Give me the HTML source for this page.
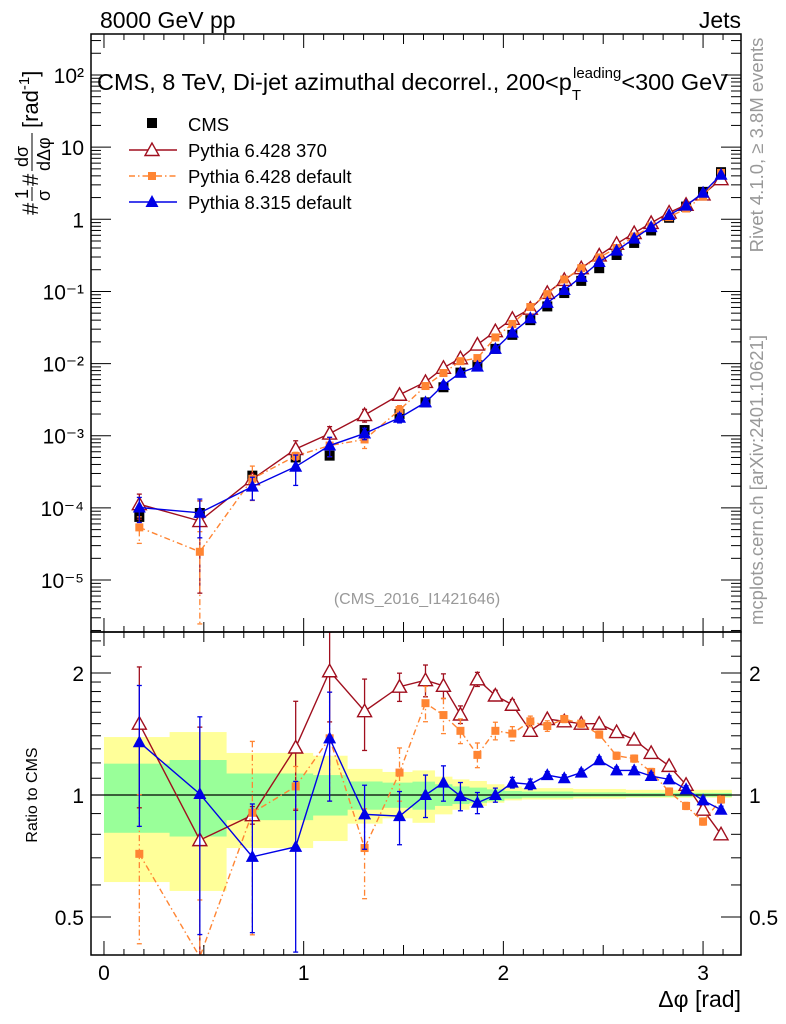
<!DOCTYPE html>
<html><head><meta charset="utf-8"><style>
html,body{margin:0;padding:0;background:#fff;width:786px;height:1024px;overflow:hidden;}
svg{display:block;font-family:"Liberation Sans",sans-serif;}
</style></head><body>
<svg id="c" width="786" height="1024" xmlns="http://www.w3.org/2000/svg"></svg>
<script>
const xs=[0.177,0.48,0.743,0.96,1.13,1.305,1.48,1.61,1.70,1.785,1.87,1.96,2.045,2.135,2.22,2.305,2.39,2.48,2.567,2.655,2.74,2.83,2.915,3.0,3.09];
const cmsVals=[7.5e-5,8.5e-5,2.8e-4,5e-4,5.3e-4,1.2e-3,2.0e-3,2.9e-3,4.7e-3,7.5e-3,9.5e-3,0.016,0.025,0.04,0.062,0.095,0.14,0.21,0.32,0.47,0.7,1.05,1.5,2.4,4.5];
const ratioP370=[1.50,0.774,0.892,1.31,2.02,1.61,1.85,1.92,1.86,1.58,1.93,1.76,1.67,1.44,1.54,1.52,1.50,1.50,1.43,1.37,1.27,1.18,1.06,0.92,0.80];
const ratioP6=[0.716,0.29,0.904,1.05,1.38,0.74,1.136,1.685,1.575,1.44,1.256,1.44,1.418,1.52,1.48,1.54,1.50,1.41,1.25,1.23,1.14,1.02,0.94,0.86,0.975];
const ratioP8=[1.35,1.006,0.704,0.745,1.38,0.896,0.887,1.0,1.073,0.994,0.957,1.0,1.073,1.063,1.12,1.10,1.136,1.218,1.15,1.15,1.114,1.093,1.033,0.97,0.92];
const errP370=[0.38,0.9,0.05,0.3,0.25,0.2,0.08,0.09,0.07,0.05,0.04,0.03,0.03,0.02,0.02,0.02,0.02,0.02,0.02,0.02,0.02,0.02,0.02,0.02,0.02];
const errP6=[0.4,0.9,0.5,0.12,0.3,0.25,0.15,0.1,0.1,0.07,0.07,0.05,0.04,0.03,0.03,0.02,0.02,0.02,0.02,0.02,0.02,0.02,0.02,0.02,0.02];
const errP8=[0.38,0.55,0.35,0.45,0.3,0.18,0.15,0.12,0.1,0.08,0.06,0.04,0.03,0.03,0.02,0.02,0.02,0.02,0.02,0.02,0.02,0.02,0.02,0.02,0.02];
const bandTotUp=[1.39,1.43,1.27,1.27,1.25,1.16,1.14,1.15,1.11,1.093,1.083,1.063,1.05,1.04,1.04,1.04,1.035,1.035,1.035,1.03,1.03,1.03,1.03,1.03,1.03];
const bandTotLo=[0.61,0.58,0.74,0.74,0.77,0.85,0.876,0.854,0.896,0.92,0.94,0.957,0.97,0.975,0.975,0.975,0.98,0.98,0.98,0.985,0.985,0.985,0.985,0.985,0.985];
const bandStatUp=[1.195,1.22,1.13,1.13,1.12,1.08,1.073,1.079,1.063,1.05,1.043,1.033,1.023,1.02,1.02,1.02,1.015,1.015,1.015,1.012,1.012,1.012,1.012,1.012,1.012];
const bandStatLo=[0.807,0.79,0.867,0.867,0.89,0.92,0.93,0.92,0.94,0.95,0.957,0.966,0.98,0.985,0.985,0.985,0.99,0.99,0.99,0.99,0.99,0.99,0.99,0.99,0.99];
const xTicks=[0,1,2,3];
const yTicksTop=[["10\u00B2",2],["10",1],["1",0],["10\u207B\u00B9",-1],["10\u207B\u00B2",-2],["10\u207B\u00B3",-3],["10\u207B\u2074",-4],["10\u207B\u2075",-5]];
const rTicks=[["2",2],["1",1],["0.5",0.5]];

const NS="http://www.w3.org/2000/svg";
const svg=document.getElementById('c');
const L=91,R=741,T1=34,B1=632,T2=632,B2=955;
const XMIN=-0.065,XMAX=3.19;
const LMAX=2.568,LMIN=-5.72;
const RMAX=1.336,RMIN=-1.311;
const clamp=(y,a,b)=>Math.max(a-2,Math.min(b+2,y));
const X=v=>L+(v-XMIN)/(XMAX-XMIN)*(R-L);
const Y1raw=v=>T1+(LMAX-Math.log10(v))/(LMAX-LMIN)*(B1-T1);
const Y2raw=v=>T2+(RMAX-Math.log2(v))/(RMAX-RMIN)*(B2-T2);
const Y1=v=>clamp(Y1raw(v),T1,B1);
const Y2=v=>clamp(Y2raw(v),T2,B2);
function el(t,a,p){const e=document.createElementNS(NS,t);for(const k in a)e.setAttribute(k,a[k]);(p||svg).appendChild(e);return e;}
function txt(s,a,p){const e=el('text',a,p);e.textContent=s;return e;}
const cl1=el('clipPath',{id:'c1'});el('rect',{x:L,y:T1,width:R-L,height:B1-T1},cl1);
const cl2=el('clipPath',{id:'c2'});el('rect',{x:L,y:T2,width:R-L,height:B2-T2},cl2);
const g1=el('g',{'clip-path':'url(#c1)'});
const g2=el('g',{'clip-path':'url(#c2)'});

const edges=[0];for(let i=0;i<xs.length-1;i++)edges.push((xs[i]+xs[i+1])/2);edges.push(3.1416);
for(let i=0;i<xs.length;i++){
 const r=el('rect',{x:X(edges[i]),y:Y2(bandTotUp[i]),width:X(edges[i+1])-X(edges[i])+0.5,height:Y2(bandTotLo[i])-Y2(bandTotUp[i]),fill:'#ffff99'},g2);
 
}
for(let i=0;i<xs.length;i++){
 const r=el('rect',{x:X(edges[i]),y:Y2(bandStatUp[i]),width:X(edges[i+1])-X(edges[i])+0.5,height:Y2(bandStatLo[i])-Y2(bandStatUp[i]),fill:'#99ff99'},g2);
 
}
el('line',{x1:L,x2:R,y1:Y2(1),y2:Y2(1),stroke:'#000','stroke-width':1.3},g2);

function marker(p,type,color,x,y){
 if(type==='sq'){return el('rect',{x:x-5,y:y-5,width:10,height:10,fill:color},p);}
 if(type==='osq'){return el('rect',{x:x-4,y:y-4,width:8,height:8,fill:color},p);}
 if(type==='tri'){return el('polygon',{points:`${x},${y-7} ${x-6.5},${y+5} ${x+6.5},${y+5}`,fill:color},p);}
 if(type==='otri'){return el('polygon',{points:`${x},${y-7} ${x-7},${y+5.5} ${x+7},${y+5.5}`,fill:'#fff',stroke:color,'stroke-width':1.4},p);}
}
const series=[
 {name:'pythia-6428-370',r:ratioP370,e:errP370,c:'#a00f1e',m:'otri',d:''},
 {name:'pythia-6428-default',r:ratioP6,e:errP6,c:'#ff8533',m:'osq',d:'6,3,1.5,3'},
 {name:'pythia-8315-default',r:ratioP8,e:errP8,c:'#0000e6',m:'tri',d:''}
];
for(let i=0;i<xs.length;i++){
 const m=marker(g1,'sq','#000',X(xs[i]),Y1(cmsVals[i]));
 
}
series.forEach(s=>{
 [[g1,Y1,Y1raw,T1,B1,i=>cmsVals[i]*s.r[i]],[g2,Y2,Y2raw,T2,B2,i=>s.r[i]]].forEach(([g,fy,fraw,tp,bt,val])=>{
  const pts=xs.map((x,i)=>X(x)+','+fy(val(i))).join(' ');
  const pl=el('polyline',{points:pts,fill:'none',stroke:s.c,'stroke-width':1.4,'stroke-dasharray':s.d},g);
  
  for(let i=0;i<xs.length;i++){
   const base=val(i);
   const up=base*(1+s.e[i]),lo=Math.max(base*(1-s.e[i]),1e-9);
   const yu=fy(up),yl=fy(lo),xx=X(xs[i]);
   el('line',{x1:xx,x2:xx,y1:yu,y2:yl,stroke:s.c,'stroke-width':1.3,'stroke-dasharray':s.d},g);
   el('line',{x1:xx-2.5,x2:xx+2.5,y1:yu,y2:yu,stroke:s.c,'stroke-width':1.3},g);
   el('line',{x1:xx-2.5,x2:xx+2.5,y1:yl,y2:yl,stroke:s.c,'stroke-width':1.3},g);
   const yr=fraw(base);
   if(yr<tp||yr>bt)continue;
   const m=marker(g,s.m,s.c,xx,yr);
   
  }
 });
});

el('rect',{x:L,y:T1,width:R-L,height:B1-T1,fill:'none',stroke:'#000','stroke-width':1.5});
el('rect',{x:L,y:T2,width:R-L,height:B2-T2,fill:'none',stroke:'#000','stroke-width':1.5});
for(let v=0;v<=3.15;v+=0.1){
 const major=Math.abs(v-Math.round(v*2)/2)<1e-6;const len=Math.abs(v-Math.round(v))<1e-6?14:(major?10:6);
 const xx=X(v);
 [[T1,1],[B1,-1],[T2,1],[B2,-1]].forEach(([y,d])=>el('line',{x1:xx,x2:xx,y1:y,y2:y+d*len,stroke:'#000','stroke-width':1}));
}
xTicks.forEach(v=>{const t=txt(String(v),{x:X(v),y:980,'font-size':21,'text-anchor':'middle'});});
for(let d=-6;d<=2;d++){for(let k=1;k<10;k++){const v=k*Math.pow(10,d);const lg=Math.log10(v);if(lg<LMIN||lg>LMAX)continue;const y=Y1(v);const len=k===1?20:10;
 el('line',{x1:L,x2:L+len,y1:y,y2:y,stroke:'#000'});el('line',{x1:R,x2:R-len,y1:y,y2:y,stroke:'#000'});}}
yTicksTop.forEach(([s,p])=>{const t=txt(s,{x:84,y:Y1(Math.pow(10,p))+8,'font-size':21,'text-anchor':'end'});});
[0.4,0.5,0.6,0.7,0.8,0.9,1,1.1,1.2,1.3,1.4,1.5,1.6,1.7,1.8,1.9,2,2.2,2.4].forEach(v=>{const lg=Math.log2(v);if(lg<RMIN||lg>RMAX)return;const y=Y2(v);const len=(v===1||v===2||v===0.5)?20:10;
 el('line',{x1:L,x2:L+len,y1:y,y2:y,stroke:'#000'});el('line',{x1:R,x2:R-len,y1:y,y2:y,stroke:'#000'});});
rTicks.forEach(([s,v])=>{const a=txt(s,{x:84,y:Y2(v)+8,'font-size':21,'text-anchor':'end'});
 const b=txt(s,{x:749,y:Y2(v)+8,'font-size':21});});
</script>
<script>
(function(){
const svg=document.getElementById('c');const NS="http://www.w3.org/2000/svg";
function add(html){const g=document.createElementNS(NS,'g');g.innerHTML=html;svg.appendChild(g);}
add(`<text x="100" y="28" font-size="23">8000 GeV pp</text>
<text x="741" y="28" font-size="23" text-anchor="end">Jets</text>
<text x="97" y="90" font-size="23.5">CMS, 8 TeV, Di-jet azimuthal decorrel., 200&lt;p<tspan font-size="15" dy="10">T</tspan><tspan font-size="15" dx="-8" dy="-22">leading</tspan><tspan dy="12">&lt;300 GeV</tspan></text>
<g>
<rect x="147" y="118" width="10" height="10" fill="#000"/>
<text x="188" y="131" font-size="18.5">CMS</text>
<line x1="129" x2="177" y1="150" y2="150" stroke="#a00f1e" stroke-width="1.4"/>
<polygon points="152,143 145,155.5 159,155.5" fill="#fff" stroke="#a00f1e" stroke-width="1.4"/>
<text x="188" y="157" font-size="18.5">Pythia 6.428 370</text>
<line x1="129" x2="177" y1="176" y2="176" stroke="#ff8533" stroke-width="1.4" stroke-dasharray="6,3,1.5,3"/>
<rect x="148" y="172" width="8" height="8" fill="#ff8533"/>
<text x="188" y="183" font-size="18.5">Pythia 6.428 default</text>
<line x1="129" x2="177" y1="202" y2="202" stroke="#0000e6" stroke-width="1.4"/>
<polygon points="152,195 145.5,207 158.5,207" fill="#0000e6"/>
<text x="188" y="209" font-size="18.5">Pythia 8.315 default</text>
</g>
<text x="417" y="604" font-size="16" fill="#999" text-anchor="middle">(CMS_2016_I1421646)</text>
<text transform="translate(763,145) rotate(-90)" font-size="18.5" fill="#999" text-anchor="middle">Rivet 4.1.0, ≥ 3.8M events</text>
<text transform="translate(763,480) rotate(-90)" font-size="18.5" fill="#999" text-anchor="middle">mcplots.cern.ch [arXiv:2401.10621]</text>
<text x="741" y="1007" font-size="23" text-anchor="end">Δφ [rad]</text>
<text transform="translate(37,795) rotate(-90)" font-size="16" text-anchor="middle">Ratio to CMS</text>
<g transform="translate(38,215) rotate(-90)">
<text x="0" y="0" font-size="22">#</text>
<text x="16" y="-10" font-size="18">1</text><line x1="14" x2="28" y1="-6" y2="-6" stroke="#000"/><text x="14" y="12" font-size="18">σ</text>
<text x="29" y="0" font-size="22">#</text>
<text x="48" y="-10" font-size="18">dσ</text><line x1="44" x2="82" y1="-6" y2="-6" stroke="#000"/><text x="44" y="12" font-size="18">dΔφ</text>
<text x="87" y="0" font-size="22">[rad<tspan font-size="15" dy="-9">-1</tspan><tspan dy="9">]</tspan></text>
</g>`);
})();
</script>
</body></html>
